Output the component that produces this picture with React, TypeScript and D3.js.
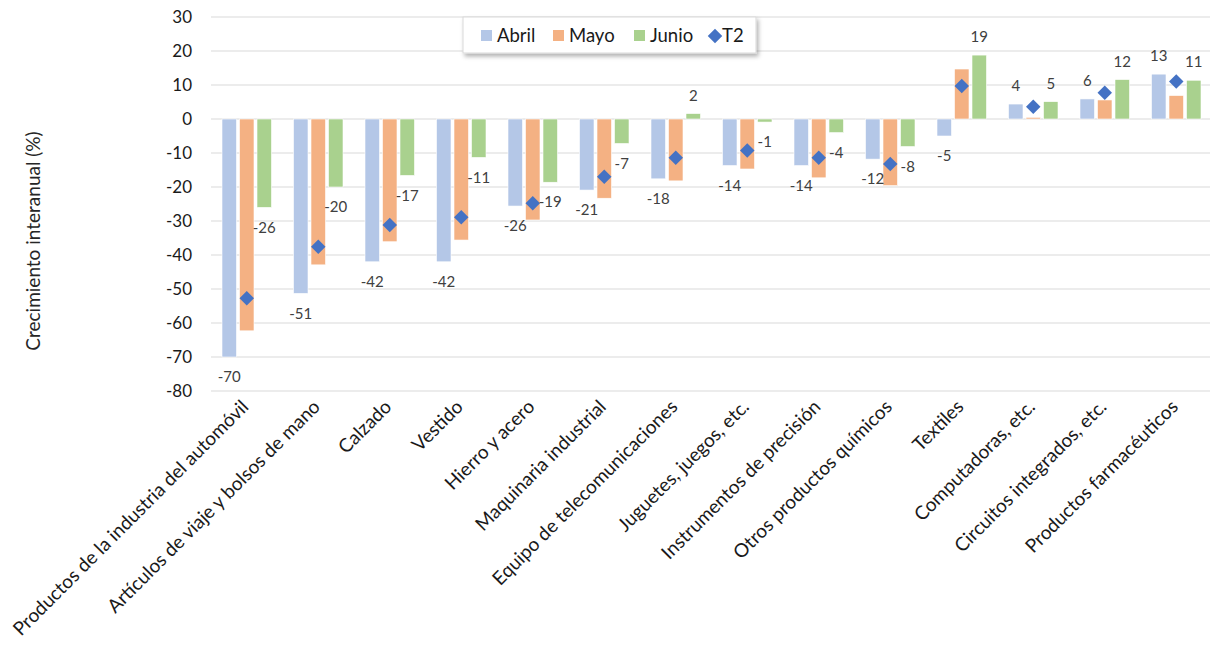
import * as d3 from "d3";
import React from "react";

const categories = [
  "Productos de la industria del automóvil",
  "Artículos de viaje y bolsos de mano",
  "Calzado",
  "Vestido",
  "Hierro y acero",
  "Maquinaria industrial",
  "Equipo de telecomunicaciones",
  "Juguetes, juegos, etc.",
  "Instrumentos de precisión",
  "Otros productos químicos",
  "Textiles",
  "Computadoras, etc.",
  "Circuitos integrados, etc.",
  "Productos farmacéuticos",
];

const abril = [-70, -51.3, -42, -42, -25.6, -20.9, -17.6, -13.7, -13.7, -11.8, -5, 4.4, 5.9, 13.2];
const mayo = [-62.3, -42.9, -36.1, -35.6, -29.7, -23.3, -18.2, -14.7, -17.3, -19.6, 14.7, 0.5, 5.6, 6.9];
const junio = [-26, -20, -16.6, -11.3, -18.6, -7.2, 1.6, -0.9, -4, -8.1, 18.8, 5.1, 11.6, 11.4];
const t2 = [-52.7, -37.6, -31.2, -28.9, -24.8, -17, -11.4, -9.3, -11.4, -13.2, 9.7, 3.6, 7.7, 11.0];

const seriesNames = ["Abril", "Mayo", "Junio"];
const seriesColors = ["#B4C7E7", "#F4B183", "#A9D18E"];
const labelled = [true, false, true]; // only Abril and Junio carry labels
const t2Color = "#4472C4";
const yTicks = [30, 20, 10, 0, -10, -20, -30, -40, -50, -60, -70, -80];

const width = 1210;
const height = 652;
const font = "Lato, 'Open Sans', sans-serif";

export default function App() {
  const x = d3.scaleBand().domain(categories).range([211, 1212]).padding(0);
  const y = d3.scaleLinear().domain([-80, 30]).range([391, 17]);
  const step = x.step();
  const xs = d3
    .scaleBand()
    .domain(seriesNames)
    .range([step / 2 - 24.75, step / 2 + 24.75])
    .paddingInner(0.171)
    .paddingOuter(0);
  const fmt = d3.formatLocale({ decimal: ".", thousands: ",", grouping: [3], currency: ["", ""], minus: "-" }).format(".0f");
  const values = [abril, mayo, junio];
  // Excel diamond: a square turned 45°
  const diamond = d3.symbol().type(d3.symbolSquare).size(105);

  return (
    <svg
      width={width}
      height={height}
      style={{ position: "absolute", left: 0, top: 0, background: "#fff" }}
      fontFamily={font}
    >
      <defs>
        <filter id="shadow" x="-10%" y="-30%" width="130%" height="180%">
          <feDropShadow dx="2" dy="3" stdDeviation="2" floodColor="#000" floodOpacity="0.3" />
        </filter>
      </defs>

      {/* gridlines + y ticks */}
      {yTicks.map((t) => (
        <g key={t}>
          <line x1={211} x2={1212} y1={y(t)} y2={y(t)} stroke="#D9D9D9" strokeWidth={1} />
          <text x={192} y={y(t)} dy="0.35em" textAnchor="end" fontSize={17} fill="#1a1a1a">
            {t}
          </text>
        </g>
      ))}

      {/* bars */}
      {categories.map((c, i) => (
        <g key={c} transform={`translate(${x(c)},0)`}>
          {seriesNames.map((s, j) => {
            const v = values[j][i];
            const y0 = y(Math.max(0, v));
            const h = Math.abs(y(v) - y(0));
            return (
              <rect
                key={s}
                x={xs(s)}
                y={y0}
                width={xs.bandwidth()}
                height={h}
                fill={seriesColors[j]}
                stroke="#fff"
                strokeWidth={0.6}
              />
            );
          })}
        </g>
      ))}

      {/* T2 diamonds */}
      {categories.map((c, i) => (
        <path
          key={c}
          d={diamond() as string}
          transform={`translate(${(x(c) as number) + step / 2},${y(t2[i])}) rotate(45)`}
          fill={t2Color}
        />
      ))}

      {/* data labels */}
      {categories.map((c, i) => (
        <g key={c} transform={`translate(${x(c)},0)`}>
          {seriesNames.map((s, j) => {
            if (!labelled[j]) return null;
            const v = values[j][i];
            const ly = v < 0 ? y(v) + 20 : y(v) - 18;
            return (
              <text
                key={s}
                x={(xs(s) as number) + xs.bandwidth() / 2}
                y={ly}
                dy="0.35em"
                textAnchor="middle"
                fontSize={15}
                fill="#404040"
              >
                {fmt(v)}
              </text>
            );
          })}
        </g>
      ))}

      {/* x labels */}
      {categories.map((c) => (
        <text
          key={c}
          transform={`translate(${(x(c) as number) + step / 2 + 3},${408}) rotate(-45)`}
          textAnchor="end"
          fontSize={19}
          fill="#1a1a1a"
        >
          {c}
        </text>
      ))}

      {/* y axis title */}
      <text
        transform={`translate(40,${241}) rotate(-90)`}
        textAnchor="middle"
        fontSize={19}
        fill="#262626"
      >
        Crecimiento interanual (%)
      </text>

      {/* legend */}
      <g>
        <rect x={463} y={17} width={293} height={36} fill="#fff" stroke="#D9D9D9" filter="url(#shadow)" />
        {seriesNames.map((s, j) => {
          const lx = [481, 553, 634][j];
          return (
            <g key={s}>
              <rect x={lx} y={30} width={11} height={11} fill={seriesColors[j]} />
              <text x={lx + 16} y={36} dy="0.35em" fontSize={18.5} fill="#1a1a1a">
                {s}
              </text>
            </g>
          );
        })}
        <path d={diamond() as string} transform="translate(715,36) rotate(45)" fill={t2Color} />
        <text x={722} y={36} dy="0.35em" fontSize={18.5} fill="#1a1a1a">
          T2
        </text>
      </g>
    </svg>
  );
}
